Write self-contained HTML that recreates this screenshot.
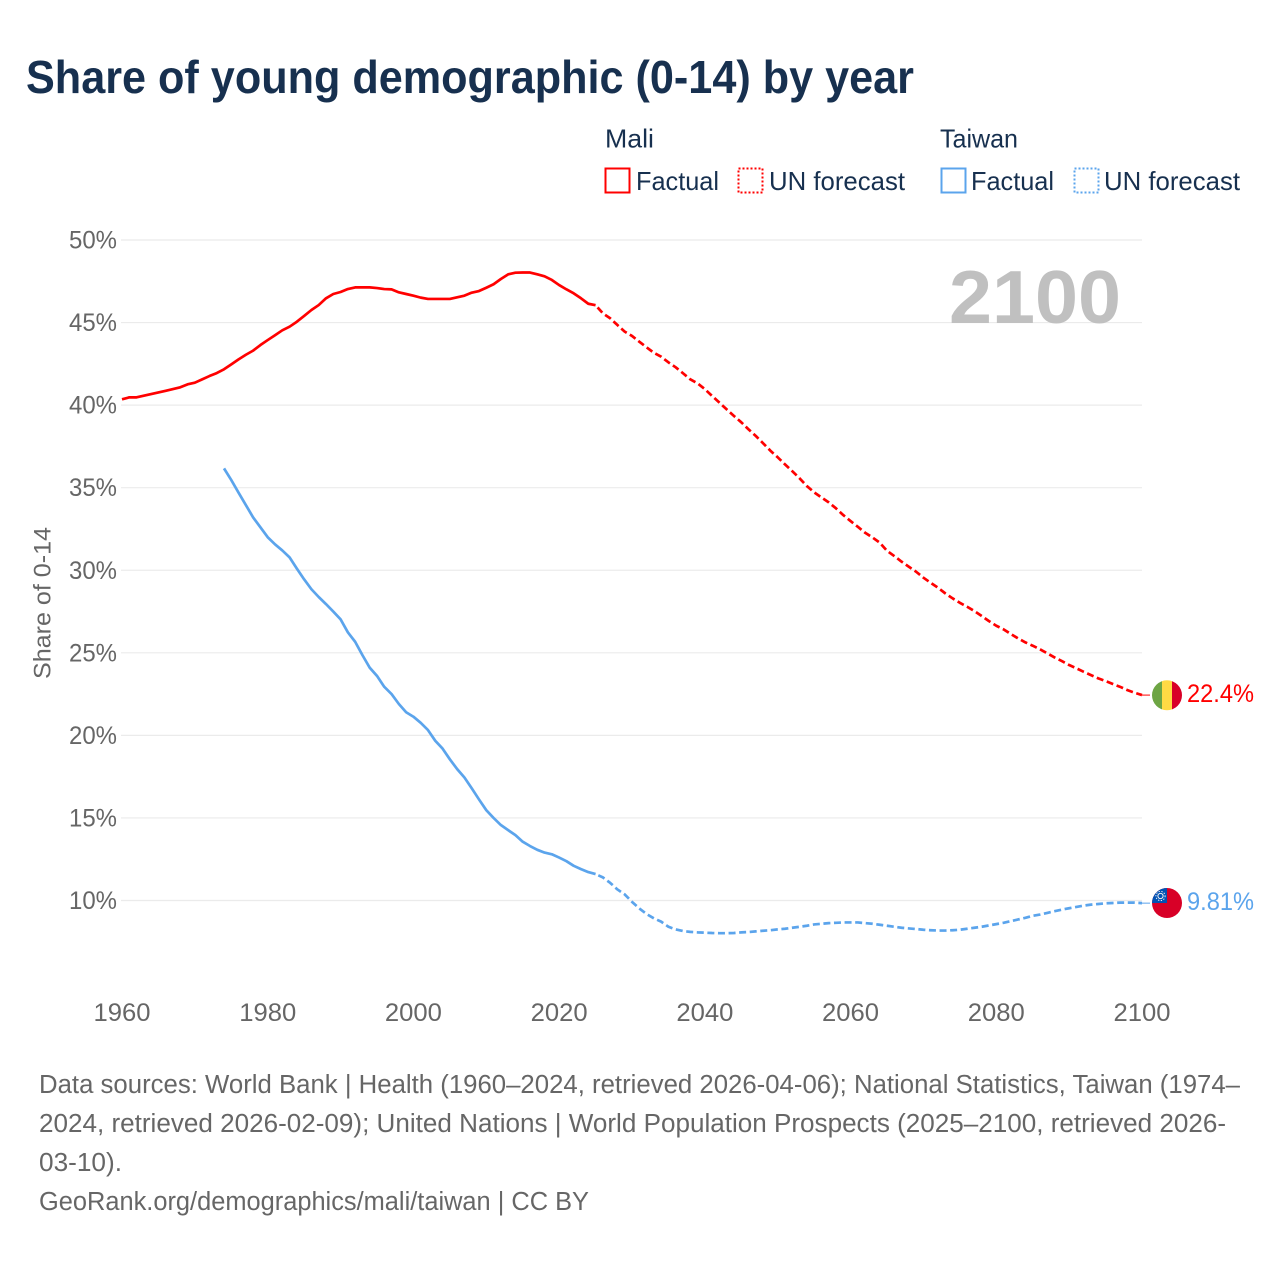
<!DOCTYPE html>
<html lang="en">
<head>
<meta charset="utf-8">
<title>Share of young demographic (0-14) by year</title>
<style>
html,body{margin:0;padding:0;background:#fff;}
svg{display:block;font-family:"Liberation Sans",sans-serif;}
</style>
</head>
<body>
<svg id="chart" width="1280" height="1280" viewBox="0 0 1280 1280" xmlns="http://www.w3.org/2000/svg">
  <defs>
    <clipPath id="flag-clip-mali"><circle cx="1167" cy="695.3" r="15"/></clipPath>
    <clipPath id="flag-clip-taiwan"><circle cx="1167" cy="903" r="15"/></clipPath>
  </defs>
  <rect width="1280" height="1280" fill="#fff"/>
  <text x="26" y="93" font-size="46" font-weight="700" fill="#17304f" textLength="888" lengthAdjust="spacingAndGlyphs">Share of young demographic (0-14) by year</text>

  <g font-size="26" fill="#17304f">
    <text x="605" y="147.5" textLength="49" lengthAdjust="spacingAndGlyphs">Mali</text>
    <text x="940" y="147.5" textLength="78" lengthAdjust="spacingAndGlyphs">Taiwan</text>
    <rect x="605.5" y="168.5" width="24" height="24" fill="none" stroke="#ff0000" stroke-width="2"/>
    <text x="636" y="190" textLength="83" lengthAdjust="spacingAndGlyphs">Factual</text>
    <rect x="738.5" y="168.5" width="24" height="24" fill="none" stroke="#ff0000" stroke-width="2" stroke-dasharray="2 2"/>
    <text x="769" y="190" textLength="136" lengthAdjust="spacingAndGlyphs">UN forecast</text>
    <rect x="941.5" y="168.5" width="24" height="24" fill="none" stroke="#5ba4ec" stroke-width="2"/>
    <text x="971" y="190" textLength="83" lengthAdjust="spacingAndGlyphs">Factual</text>
    <rect x="1074.5" y="168.5" width="24" height="24" fill="none" stroke="#5ba4ec" stroke-width="2" stroke-dasharray="2 2"/>
    <text x="1104" y="190" textLength="136" lengthAdjust="spacingAndGlyphs">UN forecast</text>
  </g>

  <g id="grid"></g>
  <g id="y-ticks" font-size="25" fill="#666"></g>
  <g id="x-ticks" font-size="25" fill="#666"></g>
  <text transform="translate(50.5,603) rotate(-90)" text-anchor="middle" font-size="24" fill="#666" textLength="152" lengthAdjust="spacingAndGlyphs">Share of 0-14</text>
  <text x="949" y="323" font-size="75" font-weight="700" fill="#c0c0c0" textLength="172" lengthAdjust="spacingAndGlyphs">2100</text>

  <g id="series"></g>

  <g clip-path="url(#flag-clip-mali)">
    <rect x="1152" y="680" width="10" height="31" fill="#6da544"/>
    <rect x="1162" y="680" width="10" height="31" fill="#ffda44"/>
    <rect x="1172" y="680" width="10" height="31" fill="#d80027"/>
  </g>
  <g clip-path="url(#flag-clip-taiwan)">
    <rect x="1152" y="888" width="30" height="30" fill="#d80027"/>
    <rect x="1152" y="888" width="15" height="15" fill="#0052b4"/>
    <circle cx="1160.5" cy="896" r="2.6" fill="none" stroke="#f0f0f0" stroke-width="1"/>
    <circle cx="1160.5" cy="896" r="4.6" fill="none" stroke="#f0f0f0" stroke-width="1" stroke-dasharray="1.3 1.5"/>
  </g>
  <text id="mali-end-label" x="1187" y="702" font-size="25" fill="#ff0000" textLength="67" lengthAdjust="spacingAndGlyphs">22.4%</text>
  <text id="taiwan-end-label" x="1187" y="910" font-size="25" fill="#5ba4ec" textLength="67" lengthAdjust="spacingAndGlyphs">9.81%</text>

  <g font-size="25.5" fill="#666">
    <text x="39" y="1093" textLength="1201" lengthAdjust="spacingAndGlyphs">Data sources: World Bank | Health (1960–2024, retrieved 2026-04-06); National Statistics, Taiwan (1974–</text>
    <text x="39" y="1132" textLength="1187" lengthAdjust="spacingAndGlyphs">2024, retrieved 2026-02-09); United Nations | World Population Prospects (2025–2100, retrieved 2026-</text>
    <text x="39" y="1171" textLength="83" lengthAdjust="spacingAndGlyphs">03-10).</text>
    <text x="39" y="1210" textLength="550" lengthAdjust="spacingAndGlyphs">GeoRank.org/demographics/mali/taiwan | CC BY</text>
  </g>
</svg>
<script>
const yTicks = [50, 45, 40, 35, 30, 25, 20, 15, 10];
const xTicks = [1960, 1980, 2000, 2020, 2040, 2060, 2080, 2100];

const maliFactualStart = 1960;
const maliFactual = [40.35,40.47,40.47,40.57,40.67,40.77,40.87,40.97,41.08,41.26,
  41.36,41.56,41.76,41.94,42.17,42.47,42.77,43.05,43.3,43.64,
  43.94,44.23,44.53,44.75,45.05,45.4,45.76,46.06,46.47,46.73,
  46.85,47.03,47.13,47.13,47.13,47.09,47.03,47.01,46.83,46.73,
  46.63,46.51,46.43,46.43,46.43,46.43,46.53,46.63,46.81,46.91,
  47.11,47.32,47.64,47.92,48.02,48.03,48.03,47.92,47.8,47.58,
  47.27,47.01,46.77,46.47,46.14,46.05];

const maliForecastStart = 2025;
const maliForecast = [46.05,45.56,45.26,44.85,44.45,44.19,43.84,43.5,43.17,42.93,
  42.59,42.29,41.93,41.56,41.32,40.97,40.55,40.15,39.74,39.34,
  38.96,38.53,38.13,37.69,37.24,36.84,36.41,36.0,35.57,35.1,
  34.72,34.41,34.11,33.75,33.34,32.98,32.63,32.27,31.99,31.67,
  31.18,30.86,30.52,30.21,29.91,29.55,29.24,28.94,28.6,28.3,
  28.03,27.79,27.53,27.23,26.92,26.64,26.42,26.14,25.87,25.63,
  25.43,25.21,24.97,24.72,24.5,24.26,24.06,23.85,23.65,23.45,
  23.29,23.11,22.94,22.74,22.58,22.44];

const taiwanFactualStart = 1974;
const taiwanFactual = [36.17,35.46,34.7,33.95,33.2,32.6,
  32.0,31.57,31.2,30.78,30.1,29.45,28.85,28.38,27.95,27.5,
  27.03,26.24,25.67,24.86,24.1,23.6,22.94,22.5,21.9,21.4,
  21.13,20.76,20.32,19.67,19.2,18.55,17.96,17.45,16.8,16.12,
  15.47,15.0,14.57,14.26,13.96,13.56,13.3,13.07,12.9,12.8,
  12.6,12.38,12.1,11.9,11.72,11.6];

const taiwanForecastStart = 2025;
const taiwanForecast = [11.6,11.4,11.07,10.67,10.37,9.92,9.52,9.18,8.92,8.72,
  8.41,8.25,8.15,8.1,8.07,8.05,8.03,8.02,8.02,8.03,
  8.07,8.09,8.13,8.17,8.2,8.25,8.29,8.35,8.41,8.47,
  8.55,8.59,8.63,8.65,8.67,8.67,8.67,8.63,8.59,8.53,
  8.47,8.41,8.35,8.31,8.27,8.23,8.2,8.18,8.18,8.2,
  8.23,8.29,8.35,8.41,8.49,8.57,8.65,8.75,8.85,8.95,
  9.07,9.15,9.25,9.35,9.45,9.53,9.61,9.69,9.75,9.79,
  9.83,9.85,9.87,9.87,9.87,9.84];

const NS = 'http://www.w3.org/2000/svg';
function xScale(year){ return 122 + (year - 1960) * (1142 - 122) / 140; }
function yScale(pct){ return 240 + (50 - pct) * (900.5 - 240) / 40; }
function make(tag, parentId){
  const el = document.createElementNS(NS, tag);
  document.getElementById(parentId).appendChild(el);
  return el;
}

yTicks.forEach(function(t){
  const line = make('line', 'grid');
  
  
  line.setAttribute('x1', 121);
  line.setAttribute('x2', 1142);
  line.setAttribute('y1', yScale(t));
  line.setAttribute('y2', yScale(t));
  line.setAttribute('stroke', '#ebebeb');
  line.setAttribute('stroke-width', 1.2);
  const label = make('text', 'y-ticks');
  
  
  label.setAttribute('x', 69);
  label.setAttribute('y', yScale(t) + 8.5);
  label.setAttribute('textLength', 48);
  label.setAttribute('lengthAdjust', 'spacingAndGlyphs');
  label.textContent = t + '%';
});

xTicks.forEach(function(t){
  const label = make('text', 'x-ticks');
  
  
  label.setAttribute('x', xScale(t) - 28.5);
  label.setAttribute('y', 1021);
  label.setAttribute('textLength', 57);
  label.setAttribute('lengthAdjust', 'spacingAndGlyphs');
  label.textContent = t;
});

function pathFrom(values, startYear){
  return values.map(function(v, i){
    return (i ? 'L' : 'M') + xScale(startYear + i).toFixed(2) + ' ' + yScale(v).toFixed(2);
  }).join(' ');
}
function drawSeries(name, values, startYear, color, dashed){
  const p = make('path', 'series');
  
  
  p.setAttribute('d', pathFrom(values, startYear));
  p.setAttribute('fill', 'none');
  p.setAttribute('stroke', color);
  p.setAttribute('stroke-width', 2.7);
  p.setAttribute('stroke-linejoin', 'round');
  if (dashed) {
    p.setAttribute('stroke-dasharray', '7 3.6');
    p.setAttribute('stroke-dashoffset', '-3');
  }
  return p;
}
drawSeries('mali-factual-line', maliFactual, maliFactualStart, '#ff0000', false);
drawSeries('mali-forecast-line', maliForecast, maliForecastStart, '#ff0000', true);
drawSeries('taiwan-factual-line', taiwanFactual, taiwanFactualStart, '#5ba4ec', false);
drawSeries('taiwan-forecast-line', taiwanForecast, taiwanForecastStart, '#5ba4ec', true);

function drawLeader(name, value, color){
  const l = make('line', 'series');
  
  
  l.setAttribute('x1', xScale(2100));
  l.setAttribute('x2', xScale(2100) + 8);
  l.setAttribute('y1', yScale(value));
  l.setAttribute('y2', yScale(value));
  l.setAttribute('stroke', color);
  l.setAttribute('stroke-width', 1);
}
drawLeader('mali-end-connector', maliForecast[maliForecast.length - 1], '#ff0000');
drawLeader('taiwan-end-connector', taiwanForecast[taiwanForecast.length - 1], '#5ba4ec');
</script>
</body>
</html>
